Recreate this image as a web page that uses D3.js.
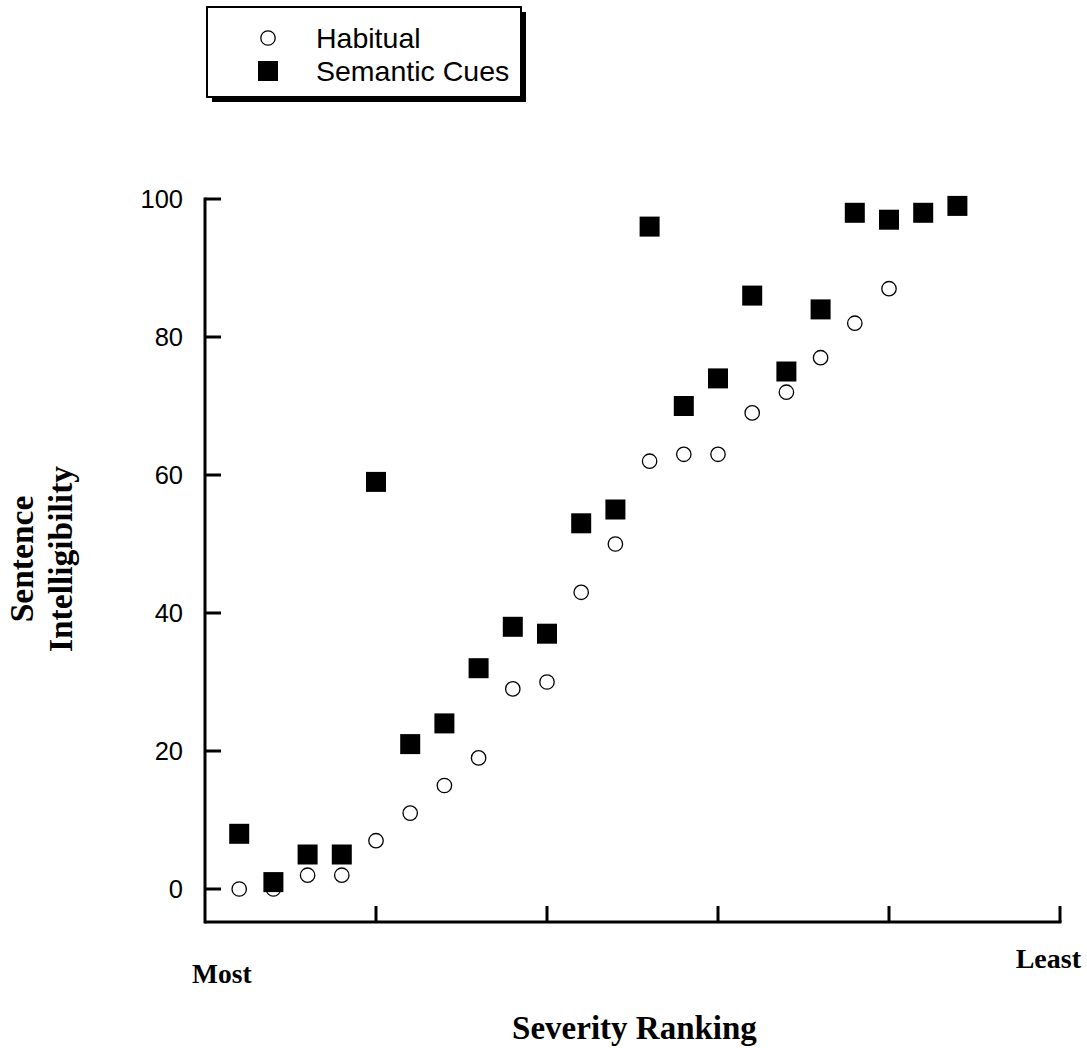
<!DOCTYPE html>
<html><head><meta charset="utf-8">
<script src="https://cdn.jsdelivr.net/npm/d3@7"></script>
<style>body{margin:0;background:#fff}</style>
</head><body>
<script>
const ranks = d3.range(1, 23);
const habitual = [0,0,2,2,7,11,15,19,29,30,43,50,62,63,63,69,72,77,82,87,null,null];
const semantic = [8,1,5,5,59,21,24,32,38,37,53,55,96,70,74,86,75,84,98,97,98,99];
const yTicks = [0,20,40,60,80,100];
const xTicks = [5,10,15,20,25];

const W = 1087, H = 1052;
const svg = d3.select("body").append("svg").attr("width", W).attr("height", H);

const x = d3.scaleLinear().domain([0,25]).range([205,1060]);
const y = d3.scaleLinear().domain([0,100]).range([889,199]);
const axisY = 922;
const sans = "Liberation Sans, Arial, sans-serif";
const serif = "Liberation Serif, Times New Roman, serif";

// axes
svg.append("line").attr("x1",205).attr("x2",205).attr("y1",y(100)-1.5).attr("y2",axisY+1.5)
  .attr("stroke","#000").attr("stroke-width",3);
svg.append("line").attr("x1",205).attr("x2",x(25)+1.5).attr("y1",axisY).attr("y2",axisY)
  .attr("stroke","#000").attr("stroke-width",3);
yTicks.forEach(t=>{
  svg.append("line").attr("x1",205).attr("x2",221).attr("y1",y(t)).attr("y2",y(t))
    .attr("stroke","#000").attr("stroke-width",3);
  svg.append("text").attr("x",183).attr("y",y(t)).attr("dy","0.36em").attr("text-anchor","end")
    .attr("font-family",sans).attr("font-size",25.5).text(t);
});
xTicks.forEach(t=>{
  svg.append("line").attr("x1",x(t)).attr("x2",x(t)).attr("y1",axisY).attr("y2",axisY-16)
    .attr("stroke","#000").attr("stroke-width",3);
});

// points
svg.selectAll("circle.h").data(ranks.map((r,i)=>({r,v:habitual[i]})).filter(d=>d.v!=null))
  .enter().append("circle").attr("cx",d=>x(d.r)).attr("cy",d=>y(d.v)).attr("r",7.2)
  .attr("fill","#fff").attr("stroke","#000").attr("stroke-width",1.3);
const s = 20;
svg.selectAll("rect.s").data(ranks.map((r,i)=>({r,v:semantic[i]})))
  .enter().append("rect").attr("x",d=>x(d.r)-s/2).attr("y",d=>y(d.v)-s/2)
  .attr("width",s).attr("height",s).attr("fill","#000");

// labels
svg.append("text").attr("x",192).attr("y",983).attr("font-family",serif).attr("font-weight","bold")
  .attr("font-size",27.5).text("Most");
svg.append("text").attr("x",1081).attr("y",968).attr("text-anchor","end").attr("font-family",serif)
  .attr("font-weight","bold").attr("font-size",28).text("Least");
svg.append("text").attr("x",634.5).attr("y",1039).attr("text-anchor","middle").attr("font-family",serif)
  .attr("font-weight","bold").attr("font-size",33).text("Severity Ranking");
const yl = svg.append("g").attr("transform","translate(0,559) rotate(-90)");
yl.append("text").attr("x",0).attr("y",33).attr("text-anchor","middle").attr("font-family",serif)
  .attr("font-weight","bold").attr("font-size",33.5).text("Sentence");
yl.append("text").attr("x",0).attr("y",72).attr("text-anchor","middle").attr("font-family",serif)
  .attr("font-weight","bold").attr("font-size",33.5).text("Intelligibility");

// legend
svg.append("rect").attr("x",212).attr("y",12).attr("width",314).attr("height",90).attr("fill","#000");
svg.append("rect").attr("x",207).attr("y",7).attr("width",314).attr("height",90)
  .attr("fill","#fff").attr("stroke","#000").attr("stroke-width",2);
svg.append("circle").attr("cx",268).attr("cy",38).attr("r",7.2).attr("fill","#fff")
  .attr("stroke","#000").attr("stroke-width",1.3);
svg.append("rect").attr("x",258).attr("y",61).attr("width",20).attr("height",20).attr("fill","#000");
svg.append("text").attr("x",316).attr("y",38).attr("dy","0.36em").attr("font-family",sans)
  .attr("font-size",28.5).text("Habitual");
svg.append("text").attr("x",316).attr("y",71).attr("dy","0.36em").attr("font-family",sans)
  .attr("font-size",28.5).text("Semantic Cues");
</script>
</body></html>
